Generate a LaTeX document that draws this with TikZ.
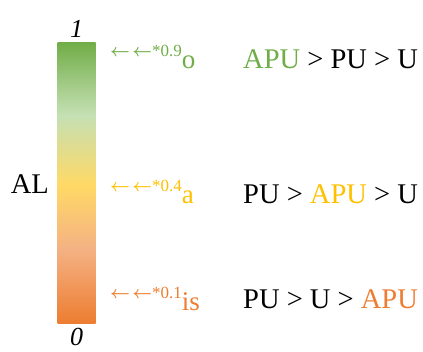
\documentclass[tikz,border=0pt]{standalone}
\usepackage{fontspec}
\setmainfont{Liberation Serif}
\usepackage{tikz}
\usetikzlibrary{positioning}
\definecolor{algreen}{HTML}{70AD47}
\definecolor{allightgreen}{HTML}{C5E0B4}
\definecolor{alyellow}{HTML}{FFD966}
\definecolor{allightorange}{HTML}{F4B183}
\definecolor{alorange}{HTML}{ED7D31}
\definecolor{algold}{HTML}{FFC000}
\pgfdeclareverticalshading{alscale}{100bp}{color(0bp)=(alorange); color(25bp)=(alorange); color(38bp)=(allightorange); color(49.6bp)=(alyellow); color(62bp)=(allightgreen); color(75bp)=(algreen); color(100bp)=(algreen)}
\tikzset{
      albar/.style={
        shading=alscale,
        minimum width=38pt,
        minimum height=281pt,
        inner sep=0pt
      },
      endlabel/.style={
        anchor=base,
        inner sep=0pt,
        font=\fontsize{26}{28}\selectfont\itshape
      },
      rankbox/.style={
        anchor=base west,
        inner sep=0pt,
        font=\fontsize{28.5}{30}\selectfont
      },
      marklabel/.style={
        anchor=base west,
        inner sep=0pt,
        font=\fontsize{27}{29}\selectfont
      }
    }
\newcommand{\alsup}[1]{\raisebox{12pt}{\fontsize{17}{19}\selectfont{\boldmath$\leftarrow\mkern2mu\leftarrow$}*#1}}

\begin{document}
\begin{tikzpicture}[x=1pt,y=-1pt]
    \useasboundingbox (0,0) rectangle (423,351);
    \node[albar] (bar) at (76.7,182.5) {};
    \node[endlabel] (one) at (76.7,37) {1};
    \node[endlabel] (zero) at (76.7,345) {0};
    \node[rankbox, anchor=base east] (al) at (49,193) {AL};
    \node[marklabel, text=algreen] (m1) at (110,68) {\alsup{0.9}o};
    \node[marklabel, text=algold] (m2) at (110,203) {\alsup{0.4}a};
    \node[marklabel, text=alorange] (m3) at (110,310) {\alsup{0.1}is};
    \node[rankbox] (r1) at (243,68) {\textcolor{algreen}{APU} > PU > U};
    \node[rankbox] (r2) at (243,203) {PU > \textcolor{algold}{APU} > U};
    \node[rankbox] (r3) at (243,308) {PU > U > \textcolor{alorange}{APU}};
    \end{tikzpicture}
\end{document}
